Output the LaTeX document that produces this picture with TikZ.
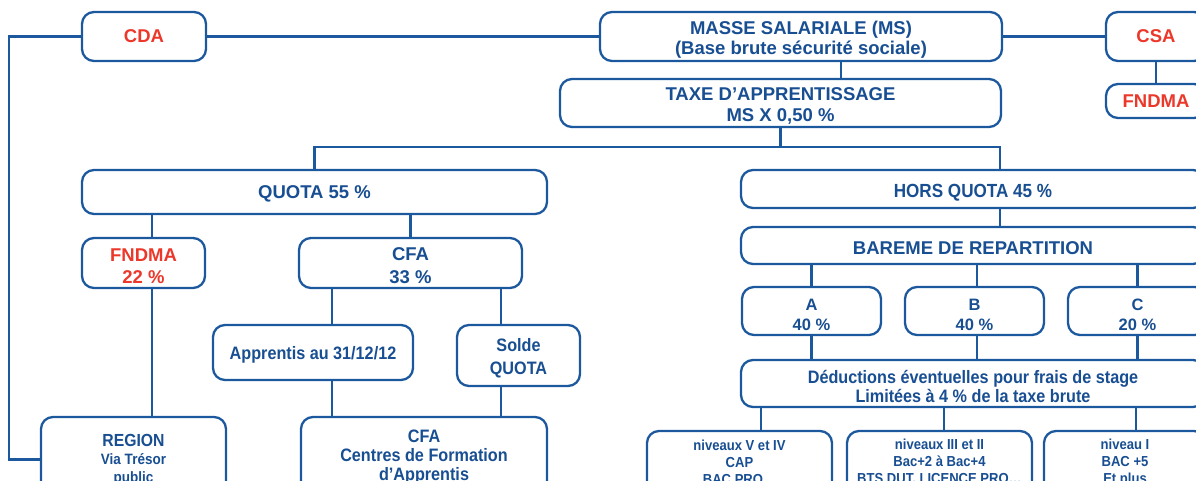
\documentclass[tikz,border=0pt]{standalone}
\usepackage{fontspec}
\setmainfont{Liberation Sans}
\newfontfamily\hvc[FakeStretch=0.9]{Liberation Sans}
\definecolor{lblue}{RGB}{28,88,158}
\definecolor{tblue}{RGB}{24,78,146}
\definecolor{tred}{RGB}{236,56,42}
\newcommand{\fsz}[2]{\fontsize{#1pt}{#2pt}\selectfont}
\newcommand{\myst}[1]{\rule{0pt}{#1pt}}
\tikzset{
  box/.style={draw=lblue, line width=2.3pt, rounded corners=12pt, inner sep=0pt,
    align=center, text=tblue, fill=white, font=\bfseries\fsz{18.5}{20}},
  redt/.style={text=tred},
  cond/.style={font=\hvc\bfseries\fsz{18}{19}},
  conn/.style={draw=lblue, line width=2.3pt}
}
\begin{document}
\begin{tikzpicture}[x=1pt,y=-1pt]
\useasboundingbox (0,0) rectangle (1196,481);
\clip (0,0) rectangle (1196,481);
% top row
\node[box, minimum width=124pt, minimum height=49pt, redt] (cda) at (144,36.5) {CDA};
\node[box, minimum width=402pt, minimum height=49pt] (ms) at (801,36.5) {\myst{19}MASSE SALARIALE (MS)\\(Base brute sécurité sociale)};
\node[box, minimum width=100pt, minimum height=49pt, redt] (csa) at (1156,36.5) {CSA};
\node[box, minimum width=100pt, minimum height=34pt, redt] (fndmat) at (1156,101) {FNDMA};
\node[box, minimum width=441pt, minimum height=48pt, font=\bfseries\fsz{18.5}{21}] (taxe) at (780.5,103) {\myst{19.5}TAXE D’APPRENTISSAGE\\MS X 0,50 \%};
% quota
\node[box, minimum width=465pt, minimum height=44pt] (quota) at (314.5,192) {\myst{17.5}QUOTA 55 \%};
\node[box, minimum width=123pt, minimum height=50pt, redt, font=\bfseries\fsz{18.5}{22}] (fndma) at (143.5,263) {\myst{19.5}FNDMA\\22 \%};
\node[box, minimum width=223pt, minimum height=50pt, font=\bfseries\fsz{18.5}{23}] (cfa) at (410.5,263) {\myst{18.5}CFA\\33 \%};
\node[box, minimum width=200pt, minimum height=55pt, cond] (appr) at (313,352.5) {\myst{17}Apprentis au 31/12/12};
\node[box, minimum width=123pt, minimum height=61pt, font=\hvc\bfseries\fsz{18}{23}] (solde) at (518.5,355.5) {\myst{19}Solde\\QUOTA};
\node[box, minimum width=185pt, minimum height=85pt, font=\hvc\bfseries\fsz{17.5}{18}] (region) at (133.5,459.5) {REGION\\{\fsz{15}{18}Via Trésor}\\{\fsz{15}{18}public}};
\node[box, minimum width=246pt, minimum height=80pt, cond] (cfal) at (424,457) {CFA\\Centres de Formation\\d’Apprentis};
% hors quota
\node[box, minimum width=464pt, minimum height=38pt, font=\hvc\bfseries\fsz{19}{20}] (hors) at (973,189) {\myst{21}HORS QUOTA 45 \%};
\node[box, minimum width=464pt, minimum height=37pt] (bareme) at (973,245.5) {\myst{18.5}BAREME DE REPARTITION};
\node[box, minimum width=139pt, minimum height=48pt, font=\bfseries\fsz{16.5}{20}] (ba) at (811.5,311) {\myst{18.5}A\\40 \%};
\node[box, minimum width=139pt, minimum height=48pt, font=\bfseries\fsz{16.5}{20}] (bb) at (974.5,311) {\myst{18.5}B\\40 \%};
\node[box, minimum width=139pt, minimum height=48pt, font=\bfseries\fsz{16.5}{20}] (bc) at (1137.5,311) {\myst{18.5}C\\20 \%};
\node[box, minimum width=464pt, minimum height=47pt, cond] (deduc) at (973,383.5) {\myst{19.5}Déductions éventuelles pour frais de stage\\Limitées à 4 \% de la taxe brute};
\node[box, minimum width=185pt, minimum height=63pt, font=\hvc\bfseries\fsz{14.5}{17}] (niv1) at (739.5,462.5) {niveaux V et IV\\CAP\\BAC PRO…};
\node[box, minimum width=185pt, minimum height=63pt, font=\hvc\bfseries\fsz{14.5}{17}] (niv2) at (939.5,462.5) {niveaux III et II\\Bac+2 à Bac+4\\BTS DUT, LICENCE PRO…};
\node[box, minimum width=162pt, minimum height=63pt, font=\hvc\bfseries\fsz{14.5}{17}] (niv3) at (1125,462.5) {niveau I\\BAC +5\\Et plus};
% helper coordinates
\coordinate (lc) at (9,250);
\coordinate (msx) at (841,0);
\coordinate (split) at (780.5,147);
\coordinate (hx) at (1000,0);
\coordinate (qa) at (152,0);
\coordinate (ax) at (332,0);
\coordinate (sx) at (501,0);
\coordinate (bx) at (977,0);
\coordinate (n1x) at (761,0);
\coordinate (n2x) at (944,0);
\coordinate (n3x) at (1136,0);
% connectors
\draw[conn] (cda.west) -| (lc) |- (region.west);
\draw[conn] (cda.east) -- (ms.west);
\draw[conn] (ms.east) -- (csa.west);
\draw[conn] (csa.south) -- (fndmat.north);
\draw[conn] (ms.south -| msx) -- (taxe.north -| msx);
\draw[conn] (taxe.south) -- (split);
\draw[conn] (quota.north) |- (split) -| (hors.north -| hx);
\draw[conn] (hors.south -| hx) -- (bareme.north -| hx);
\draw[conn] (quota.south -| qa) -- (fndma.north -| qa);
\draw[conn] (fndma.south -| qa) -- (region.north -| qa);
\draw[conn] (quota.south -| cfa.north) -- (cfa.north);
\draw[conn] (cfa.south -| ax) -- (appr.north -| ax);
\draw[conn] (cfa.south -| sx) -- (solde.north -| sx);
\draw[conn] (appr.south -| ax) -- (cfal.north -| ax);
\draw[conn] (solde.south -| sx) -- (cfal.north -| sx);
\draw[conn] (bareme.south -| ba.north) -- (ba.north);
\draw[conn] (bareme.south -| bx) -- (bb.north -| bx);
\draw[conn] (bareme.south -| bc.north) -- (bc.north);
\draw[conn] (ba.south) -- (deduc.north -| ba.south);
\draw[conn] (bb.south -| bx) -- (deduc.north -| bx);
\draw[conn] (bc.south) -- (deduc.north -| bc.south);
\draw[conn] (deduc.south -| n1x) -- (niv1.north -| n1x);
\draw[conn] (deduc.south -| n2x) -- (niv2.north -| n2x);
\draw[conn] (deduc.south -| n3x) -- (niv3.north -| n3x);
\end{tikzpicture}
\end{document}
